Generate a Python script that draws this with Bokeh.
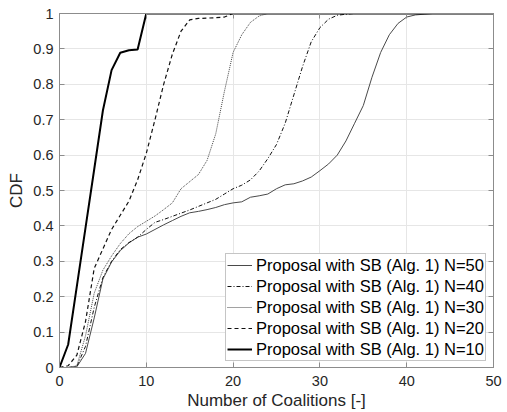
from bokeh.plotting import figure
from bokeh.models import Range1d, FixedTicker, LinearAxis, Legend
from bokeh.embed import file_html
from bokeh.resources import INLINE

# ---- data ----
x_n50 = list(range(0, 44)) + [50]
y_n50 = [0, 0, 0.002, 0.04, 0.14, 0.25, 0.298, 0.33, 0.352, 0.368, 0.377, 0.39, 0.403,
         0.415, 0.427, 0.437, 0.441, 0.446, 0.452, 0.46, 0.465, 0.468, 0.481, 0.485, 0.49,
         0.505, 0.516, 0.519, 0.527, 0.538, 0.556, 0.575, 0.6, 0.64, 0.69, 0.74, 0.82, 0.89,
         0.94, 0.972, 0.99, 0.996, 0.998, 1.0, 1.0]

x_n40 = list(range(0, 35)) + [50]
y_n40 = [0, 0, 0.003, 0.06, 0.17, 0.254, 0.30, 0.333, 0.353, 0.368, 0.39, 0.41, 0.418,
         0.427, 0.436, 0.445, 0.455, 0.465, 0.475, 0.49, 0.505, 0.515, 0.53, 0.555, 0.59,
         0.63, 0.69, 0.77, 0.85, 0.92, 0.96, 0.984, 0.995, 0.998, 1.0, 1.0]

x_n30 = list(range(0, 25)) + [50]
y_n30 = [0, 0, 0.005, 0.09, 0.21, 0.275, 0.315, 0.35, 0.378, 0.398, 0.413, 0.428, 0.446,
         0.465, 0.505, 0.525, 0.545, 0.585, 0.66, 0.78, 0.89, 0.94, 0.975, 0.993, 1.0, 1.0]

x_n20 = list(range(0, 21)) + [50]
y_n20 = [0, 0.005, 0.035, 0.13, 0.28, 0.335, 0.39, 0.43, 0.47, 0.53, 0.605, 0.70, 0.80,
         0.885, 0.95, 0.982, 0.986, 0.987, 0.988, 0.99, 1.0, 1.0]

x_n10 = list(range(0, 11)) + [50]
y_n10 = [0, 0.065, 0.23, 0.395, 0.56, 0.726, 0.84, 0.889, 0.896, 0.898, 1.0, 1.0]

series_labels = ["Proposal with SB (Alg. 1) N=50", "Proposal with SB (Alg. 1) N=40",
                 "Proposal with SB (Alg. 1) N=30", "Proposal with SB (Alg. 1) N=20",
                 "Proposal with SB (Alg. 1) N=10"]

x_ticks = [0, 10, 20, 30, 40, 50]
x_tick_labels = ["0", "10", "20", "30", "40", "50"]
y_ticks = [0, 0.1, 0.2, 0.3, 0.4, 0.5, 0.6, 0.7, 0.8, 0.9, 1]
y_tick_labels = ["0", "0.1", "0.2", "0.3", "0.4", "0.5", "0.6", "0.7", "0.8", "0.9", "1"]

FONT = "Liberation Sans"
AX_COLOR = "#8c8c8c"
TXT_COLOR = "#262626"

p = figure(width=507, height=412, output_backend="svg", toolbar_location=None,
           x_range=Range1d(0, 50), y_range=Range1d(0, 1),
           min_border_left=59, min_border_right=14, min_border_top=13, min_border_bottom=45)
p.background_fill_color = "white"
p.border_fill_color = "white"
p.outline_line_color = AX_COLOR
p.outline_line_width = 1

# grid
p.xgrid.ticker = FixedTicker(ticks=x_ticks)
p.ygrid.ticker = FixedTicker(ticks=y_ticks)
for g in (p.xgrid, p.ygrid):
    g.grid_line_color = "#e6e6e6"
    g.grid_line_width = 1

def style_axis(ax, ticks, labels, show_labels=True):
    ax.ticker = FixedTicker(ticks=ticks)
    ax.major_label_overrides = dict(zip(ticks, labels))
    ax.axis_line_color = AX_COLOR
    ax.major_tick_line_color = AX_COLOR
    ax.major_tick_in = 5
    ax.major_tick_out = 0
    ax.minor_tick_line_color = None
    ax.major_label_text_font = FONT
    ax.major_label_text_color = TXT_COLOR
    ax.major_label_text_font_size = "14.5px" if show_labels else "0px"
    ax.axis_label_text_font = FONT
    ax.axis_label_text_font_style = "normal"
    ax.axis_label_text_color = TXT_COLOR
    ax.axis_label_text_font_size = "17px"

style_axis(p.xaxis[0], x_ticks, x_tick_labels)
style_axis(p.yaxis[0], y_ticks, y_tick_labels)
p.xaxis.axis_label = "Number of Coalitions [-]"
p.yaxis.axis_label = "CDF"
p.xaxis.major_label_standoff = 8
p.xaxis.axis_label_standoff = 2
p.yaxis.major_label_standoff = 6
p.yaxis.axis_label_standoff = 4

rax = LinearAxis()
style_axis(rax, y_ticks, [""] * len(y_ticks), show_labels=False)
rax.major_label_standoff = 0
p.add_layout(rax, "right")
tax = LinearAxis()
style_axis(tax, x_ticks, [""] * len(x_ticks), show_labels=False)
tax.major_label_standoff = 0
p.add_layout(tax, "above")

# curves (N=50 first so that N=10 is on top)
r50 = p.line(x_n50, y_n50, line_color="#4a4a4a", line_width=1)
r40 = p.line(x_n40, y_n40, line_color="#111111", line_width=1, line_dash="4 2 1 2")
r30 = p.line(x_n30, y_n30, line_color="#444444", line_width=1, line_dash="1 1")
r20 = p.line(x_n20, y_n20, line_color="#111111", line_width=1.2, line_dash="4 3")
r10 = p.line(x_n10, y_n10, line_color="#000000", line_width=2)

legend = Legend(items=[(series_labels[0], [r50]), (series_labels[1], [r40]),
                       (series_labels[2], [r30]), (series_labels[3], [r20]),
                       (series_labels[4], [r10])],
                location=(166, 6))
legend.margin = 0
legend.padding = 1
legend.spacing = 1
legend.label_height = 20
legend.glyph_height = 20
legend.glyph_width = 25
legend.label_standoff = 4
legend.label_text_font = FONT
legend.label_text_font_size = "16.5px"
legend.label_text_color = "#000000"
legend.border_line_color = AX_COLOR
legend.border_line_width = 1
legend.background_fill_color = "white"
legend.background_fill_alpha = 1.0
p.add_layout(legend, "center")

open("out.html", "w").write(file_html(p, INLINE))
